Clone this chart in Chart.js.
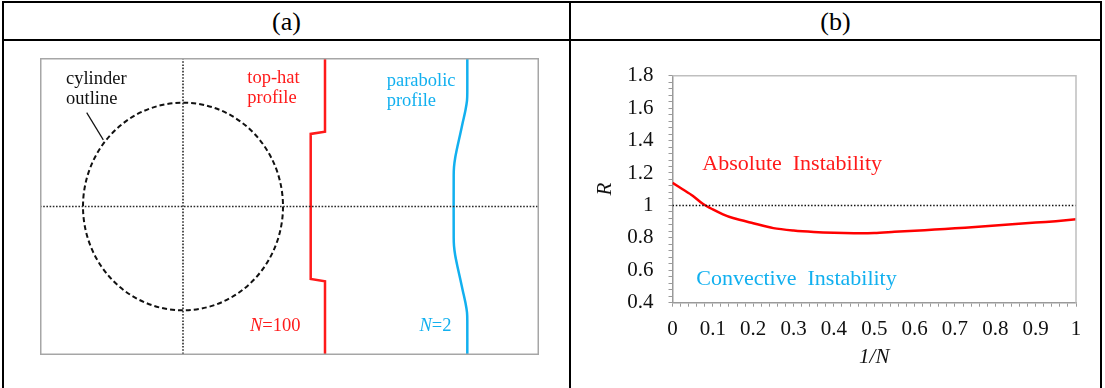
<!DOCTYPE html>
<html>
<head>
<meta charset="utf-8">
<script src="https://cdn.jsdelivr.net/npm/chart.js@4.4.1/dist/chart.umd.min.js"></script>
<style>
  body { margin: 0; background: #fff; }
  #page { position: relative; width: 1105px; height: 388px; overflow: hidden; background: #fff; font-family: "Liberation Serif", serif; }
  .rule { position: absolute; background: #000; }
  .head { position: absolute; top: 4px; height: 35px; line-height: 35px; text-align: center; font-size: 26px; color: #000; }
  canvas { position: absolute; }
</style>
</head>
<body>
<div id="page">
  <div class="rule" style="left:2px; top:1px; width:1100px; height:2px;"></div>
  <div class="rule" style="left:2px; top:39px; width:1100px; height:2px;"></div>
  <div class="rule" style="left:2px; top:1px; width:2px; height:387px;"></div>
  <div class="rule" style="left:569px; top:1px; width:2px; height:387px;"></div>
  <div class="rule" style="left:1100px; top:1px; width:2px; height:387px;"></div>
  <div class="head" style="left:4px; width:565px;">(a)</div>
  <div class="head" style="left:571px; width:529px;">(b)</div>
  <canvas id="profileChart" width="499" height="297" style="left:40px; top:58px;"></canvas>
  <canvas id="stabilityChart" width="520" height="340" style="left:575px; top:45px;"></canvas>
</div>
<script>
// ---- panel (a): velocity profiles (radius of cylinder = 1) ----
const topHatX = [1.42, 1.42, 1.277, 1.277, 1.42, 1.42];
const topHatY = [1.43, 0.721, 0.699, -0.698, -0.721, -1.43];
const parabolicX = [2.843, 2.843, 2.84, 2.825, 2.80, 2.773, 2.745, 2.722, 2.71, 2.707, 2.707, 2.71, 2.722, 2.745, 2.773, 2.80, 2.825, 2.84, 2.843, 2.843];
const parabolicY = [1.43, 1.10, 1.02, 0.93, 0.82, 0.70, 0.58, 0.47, 0.38, 0.30, -0.30, -0.38, -0.47, -0.58, -0.70, -0.82, -0.93, -1.02, -1.10, -1.43];
const cylinder = { cx: 0, cy: 0, r: 1 };
const leaderX = [-0.963, -0.797];
const leaderY = [0.904, 0.641];

// ---- panel (b): R against 1/N ----
const invN = [0, 0.025, 0.05, 0.075, 0.1, 0.125, 0.15, 0.2, 0.25, 0.3, 0.35, 0.4, 0.45, 0.5, 0.55, 0.6, 0.65, 0.7, 0.75, 0.8, 0.85, 0.9, 0.95, 1];
const ratioR = [1.14, 1.10, 1.06, 1.01, 0.975, 0.945, 0.922, 0.89, 0.86, 0.845, 0.836, 0.831, 0.829, 0.83, 0.837, 0.844, 0.851, 0.859, 0.867, 0.876, 0.885, 0.894, 0.903, 0.914];
const thresholdX = [0, 1];
const thresholdY = [1, 1];
const xTickValues = [0, 0.1, 0.2, 0.3, 0.4, 0.5, 0.6, 0.7, 0.8, 0.9, 1];
const xTickLabels = ['0', '0.1', '0.2', '0.3', '0.4', '0.5', '0.6', '0.7', '0.8', '0.9', '1'];
const yTickValues = [0.4, 0.6, 0.8, 1, 1.2, 1.4, 1.6, 1.8];
const yTickLabels = ['0.4', '0.6', '0.8', '1', '1.2', '1.4', '1.6', '1.8'];

const RED = '#ff1a1a';
const BLUE = '#12b0ef';
const SERIF = '"Liberation Serif", "Times New Roman", serif';

const toPoints = (xs, ys) => xs.map((x, i) => ({ x: x, y: ys[i] }));

// text drawn at data coordinates; parts let "N" be italic
function drawNotes(chart, notes) {
    const ctx = chart.ctx;
    const xs = chart.scales.x, ys = chart.scales.y;
    ctx.save();
    ctx.textBaseline = 'alphabetic';
    ctx.textAlign = 'left';
    notes.forEach(n => {
        let px = xs.getPixelForValue(n.x);
        const py = ys.getPixelForValue(n.y);
        ctx.fillStyle = n.color;
        n.parts.forEach(p => {
            ctx.font = (p.italic ? 'italic ' : '') + n.size + 'px ' + SERIF;
            ctx.fillText(p.text, px, py);
            px += ctx.measureText(p.text).width;
        });
    });
    ctx.restore();
}

// ---------- chart (a) ----------
const profileNotes = [
    { x: -1.17, y: 1.175, size: 18.5, color: '#111', parts: [{ text: 'cylinder' }] },
    { x: -1.17, y: 0.983, size: 18.5, color: '#111', parts: [{ text: 'outline' }] },
    { x: 0.643, y: 1.19, size: 18.5, color: RED, parts: [{ text: 'top-hat' }] },
    { x: 0.643, y: 0.994, size: 18.5, color: RED, parts: [{ text: 'profile' }] },
    { x: 2.037, y: 1.16, size: 18.5, color: BLUE, parts: [{ text: 'parabolic' }] },
    { x: 2.037, y: 0.968, size: 18.5, color: BLUE, parts: [{ text: 'profile' }] },
    { x: 0.67, y: -1.195, size: 18.5, color: RED, parts: [{ text: 'N', italic: true }, { text: '=100' }] },
    { x: 2.365, y: -1.195, size: 18.5, color: BLUE, parts: [{ text: 'N', italic: true }, { text: '=2' }] }
];

const profilePlugin = {
    id: 'profileExtras',
    beforeDatasetsDraw(chart) {
        const ctx = chart.ctx;
        const xs = chart.scales.x, ys = chart.scales.y;
        const cx = xs.getPixelForValue(cylinder.cx);
        const cy = ys.getPixelForValue(cylinder.cy);
        const rx = xs.getPixelForValue(cylinder.cx + cylinder.r) - cx;
        const ry = cy - ys.getPixelForValue(cylinder.cy + cylinder.r);
        ctx.save();
        ctx.strokeStyle = '#111';
        ctx.lineWidth = 2;
        ctx.setLineDash([5, 3]);
        ctx.beginPath();
        ctx.ellipse(cx, cy, rx, ry, 0, 0, Math.PI * 2);
        ctx.stroke();
        ctx.restore();
    },
    afterDraw(chart) {
        const ctx = chart.ctx;
        ctx.save();
        ctx.strokeStyle = '#a6a6a6';
        ctx.lineWidth = 1.5;
        ctx.strokeRect(0.75, 0.75, chart.width - 1.5, chart.height - 1.5);
        ctx.restore();
        drawNotes(chart, profileNotes);
    }
};

new Chart(document.getElementById('profileChart'), {
    type: 'scatter',
    data: {
        datasets: [
            { data: toPoints([-1.43, 3.56], [0, 0]), borderColor: '#2a2a2a', borderWidth: 1.6, borderDash: [1.6, 1.6] },
            { data: toPoints([0, 0], [1.43, -1.43]), borderColor: '#2a2a2a', borderWidth: 1.6, borderDash: [1.6, 1.6] },
            { data: toPoints(leaderX, leaderY), borderColor: '#111', borderWidth: 1.2 },
            { data: toPoints(topHatX, topHatY), borderColor: RED, borderWidth: 2.5, tension: 0 },
            { data: toPoints(parabolicX, parabolicY), borderColor: BLUE, borderWidth: 2.5, tension: 0.25 }
        ]
    },
    options: {
        responsive: false,
        animation: false,
        devicePixelRatio: 1,
        showLine: true,
        elements: { point: { radius: 0 } },
        layout: { padding: 0 },
        plugins: { legend: { display: false }, tooltip: { enabled: false } },
        scales: {
            x: { type: 'linear', min: -1.43, max: 3.56, display: false },
            y: { type: 'linear', min: -1.43, max: 1.43, display: false }
        }
    },
    plugins: [profilePlugin]
});

// ---------- chart (b) ----------
const stabilityNotes = [
    { x: 0.074, y: 1.22, size: 22, color: RED, parts: [{ text: 'Absolute  Instability' }] },
    { x: 0.059, y: 0.509, size: 22, color: BLUE, parts: [{ text: 'Convective  Instability' }] }
];

const stabilityPlugin = {
    id: 'stabilityExtras',
    afterDraw(chart) {
        const ctx = chart.ctx;
        const a = chart.chartArea;
        ctx.save();
        ctx.strokeStyle = '#bfbfbf';
        ctx.lineWidth = 1.5;
        ctx.beginPath();
        ctx.moveTo(a.left, a.top);
        ctx.lineTo(a.right, a.top);
        ctx.lineTo(a.right, a.bottom);
        ctx.stroke();
        ctx.restore();
        drawNotes(chart, stabilityNotes);
    }
};

// minor ticks every fifth of a major step, as in the original axes
function minorTicks(min, max, step) {
    const out = [];
    const n = Math.round((max - min) / step);
    for (let i = 0; i <= n; i++) out.push({ value: +(min + i * step).toFixed(4) });
    return out;
}

function labelFor(values, labels) {
    return value => {
        const i = values.findIndex(v => Math.abs(v - value) < 1e-6);
        return i >= 0 ? labels[i] : '';
    };
}

new Chart(document.getElementById('stabilityChart'), {
    type: 'scatter',
    data: {
        datasets: [
            { data: toPoints(thresholdX, thresholdY), borderColor: '#111', borderWidth: 1.5, borderDash: [1.5, 1.8] },
            { data: toPoints(invN, ratioR), borderColor: '#ff0000', borderWidth: 2.5, tension: 0.3 }
        ]
    },
    options: {
        responsive: false,
        animation: false,
        devicePixelRatio: 1,
        showLine: true,
        elements: { point: { radius: 0 } },
        layout: { padding: { top: 30.7, right: 19, left: 0, bottom: 0 } },
        plugins: { legend: { display: false }, tooltip: { enabled: false } },
        scales: {
            x: {
                type: 'linear', min: 0, max: 1,
                afterBuildTicks: s => { s.ticks = minorTicks(0, 1, 0.02); },
                afterFit: s => { s.height = 82.3; },
                ticks: {
                    autoSkip: false, maxRotation: 0, padding: 10, color: '#111',
                    font: { family: SERIF, size: 21 },
                    callback: labelFor(xTickValues, xTickLabels)
                },
                grid: { drawOnChartArea: false, tickLength: 4, color: '#9a9a9a' },
                border: { color: '#9a9a9a', width: 1.5 },
                title: {
                    display: true, text: '1/N', color: '#111',
                    font: { family: SERIF, size: 21, style: 'italic' },
                    padding: { top: 0, bottom: 15 }
                }
            },
            y: {
                type: 'linear', min: 0.4, max: 1.8,
                afterBuildTicks: s => { s.ticks = minorTicks(0.4, 1.8, 0.04); },
                afterFit: s => { s.width = 97.5; },
                ticks: {
                    autoSkip: false, padding: 15, color: '#111',
                    font: { family: SERIF, size: 21 },
                    callback: labelFor(yTickValues, yTickLabels)
                },
                grid: { drawOnChartArea: false, tickLength: 4, color: '#9a9a9a' },
                border: { color: '#9a9a9a', width: 1.5 },
                title: {
                    display: true, text: 'R', color: '#111',
                    font: { family: SERIF, size: 21, style: 'italic' },
                    padding: { top: 18, bottom: 0 }
                }
            }
        }
    },
    plugins: [stabilityPlugin]
});
</script>
</body>
</html>
